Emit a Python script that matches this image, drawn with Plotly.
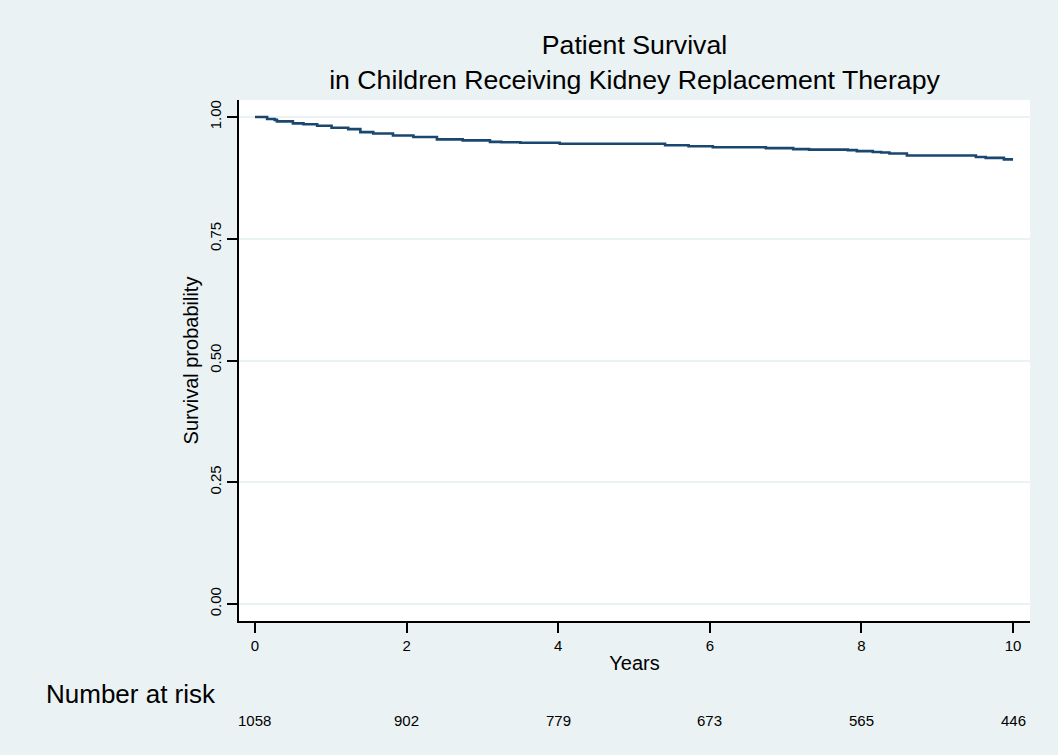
import plotly.graph_objects as go

# Kaplan-Meier step data (years, survival probability)
years = [0, 0.16, 0.26, 0.29, 0.5, 0.64, 0.82, 1.01, 1.23, 1.39, 1.56, 1.82, 2.09, 2.4,
         2.74, 3.1, 3.25, 3.5, 4.02, 5.41, 5.72, 6.04, 6.74, 7.1, 7.31, 7.82, 7.94,
         8.15, 8.26, 8.37, 8.6, 9.51, 9.64, 9.88, 10.0]
survival = [1.000, 0.996, 0.994, 0.991, 0.987, 0.985, 0.982, 0.978, 0.975, 0.969, 0.966,
            0.962, 0.959, 0.954, 0.952, 0.949, 0.948, 0.947, 0.945, 0.942, 0.940, 0.938,
            0.936, 0.934, 0.933, 0.932, 0.930, 0.928, 0.927, 0.925, 0.921, 0.918, 0.916,
            0.913, 0.913]

risk_years = [0, 2, 4, 6, 8, 10]
risk_counts = ["1058", "902", "779", "673", "565", "446"]

y_ticks = [0, 0.25, 0.5, 0.75, 1.0]
y_ticklabels = ["0.00", "0.25", "0.50", "0.75", "1.00"]
x_ticks = [0, 2, 4, 6, 8, 10]

BG = "#eaf2f3"
LINE = "#1a476f"
FONT = "Liberation Sans, Arial, Helvetica, sans-serif"

fig = go.Figure()
fig.add_trace(go.Scatter(x=years, y=survival, mode="lines", line_shape="hv",
                         line=dict(color=LINE, width=2.6), showlegend=False,
                         hoverinfo="x+y"))

annotations = []
for yr, n in zip(risk_years, risk_counts):
    annotations.append(dict(x=yr, y=(621 - 720) / 521, xref="x", yref="paper", text=n,
                            showarrow=False, xanchor="center", yanchor="middle",
                            font=dict(size=15, color="black", family=FONT)))
annotations.append(dict(x=(44 - 239) / 791, y=(621 - 694) / 521, xref="paper", yref="paper",
                        text="Number at risk", showarrow=False, xanchor="left",
                        yanchor="middle", font=dict(size=26, color="black", family=FONT)))

fig.update_layout(
    width=1058, height=755,
    margin=dict(l=239, r=28, t=100, b=134),
    paper_bgcolor=BG, plot_bgcolor="white",
    font=dict(family=FONT, color="black"),
    title=dict(text="Patient Survival<br>in Children Receiving Kidney Replacement Therapy",
               x=0.5, xref="paper", y=1 - 54 / 755, yref="container",
               xanchor="center", yanchor="middle",
               font=dict(size=26.7, color="black", family=FONT)),
    xaxis=dict(range=[-0.211, 10.224], tickvals=x_ticks, showgrid=False, zeroline=False,
               showline=True, linecolor="black", linewidth=1.5,
               ticks="outside", ticklen=10, tickwidth=1.5, tickcolor="black",
               tickfont=dict(size=15, family=FONT),
               title=dict(text="Years", font=dict(size=20, family=FONT), standoff=3)),
    yaxis=dict(range=[-0.0349, 1.0349], tickvals=y_ticks, ticktext=y_ticklabels,
               tickangle=-90, showgrid=True, gridcolor=BG, gridwidth=1.5, zeroline=False,
               showline=True, linecolor="black", linewidth=1.5,
               ticks="outside", ticklen=10, tickwidth=1.5, tickcolor="black",
               tickfont=dict(size=15, family=FONT),
               title=dict(text="Survival probability", font=dict(size=20, family=FONT),
                          standoff=3)),
    annotations=annotations,
)

fig.write_html("out.html")
